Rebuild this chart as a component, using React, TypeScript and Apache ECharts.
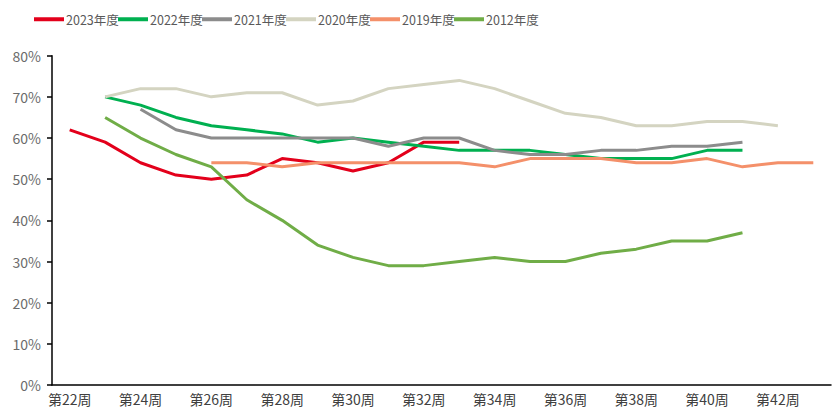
import React, { useEffect, useRef } from "react";
import * as echarts from "echarts";

const weeks = Array.from({ length: 22 }, (_, i) => `第${22 + i}周`);
const seriesNames = ["2023年度", "2022年度", "2021年度", "2020年度", "2019年度", "2012年度"];
const colors = ["#E3001B", "#00B050", "#8C8C8C", "#D4D4C1", "#F4906A", "#70AD47"];

const _ = null;
// weeks 22..43
const v2023 = [62, 59, 54, 51, 50, 51, 55, 54, 52, 54, 59, 59, _, _, _, _, _, _, _, _, _, _];
const v2022 = [_, 70, 68, 65, 63, 62, 61, 59, 60, 59, 58, 57, 57, 57, 56, 55, 55, 55, 57, 57, _, _];
const v2021 = [_, _, 67, 62, 60, 60, 60, 60, 60, 58, 60, 60, 57, 56, 56, 57, 57, 58, 58, 59, _, _];
const v2020 = [_, 70, 72, 72, 70, 71, 71, 68, 69, 72, 73, 74, 72, 69, 66, 65, 63, 63, 64, 64, 63, _];
const v2019 = [_, _, _, _, 54, 54, 53, 54, 54, 54, 54, 54, 53, 55, 55, 55, 54, 54, 55, 53, 54, 54];
const v2012 = [_, 65, 60, 56, 53, 45, 40, 34, 31, 29, 29, 30, 31, 30, 30, 32, 33, 35, 35, 37, _, _];

const allValues = [v2023, v2022, v2021, v2020, v2019, v2012];
const legendLefts = [29, 113, 197, 281, 365, 449];

export default function App() {
  const ref = useRef<HTMLDivElement>(null);
  useEffect(() => {
    if (!ref.current) return;
    const chart = echarts.init(ref.current, null, { renderer: "svg" });
    const font = "'Noto Sans CJK SC', 'Noto Sans', sans-serif";
    chart.setOption({
      animation: false,
      textStyle: { fontFamily: font },
      legend: seriesNames.map((n, i) => ({
        data: [{ name: n, icon: "rect" }],
        left: legendLefts[i],
        top: 8,
        itemWidth: 30,
        itemHeight: 4,
        itemGap: 2,
        textStyle: { fontSize: 12.5, color: "#595959", fontFamily: font, padding: [0, 0, 0, -3] },
      })),
      grid: { left: 52, right: 2, top: 55.7, bottom: 27, containLabel: false },
      xAxis: {
        type: "category",
        data: weeks,
        boundaryGap: true,
        axisLine: { lineStyle: { color: "#000", width: 1.5 } },
        axisTick: { interval: 1, alignWithLabel: false, length: 5, lineStyle: { color: "#000", width: 1.5 } },
        axisLabel: { interval: 1, fontSize: 14, color: "#404040", margin: 7, fontFamily: font },
        splitLine: { show: false },
      },
      yAxis: {
        type: "value",
        min: 0,
        max: 80,
        interval: 10,
        axisLine: { show: true, lineStyle: { color: "#000", width: 1.5 } },
        axisTick: { show: true, length: 5, lineStyle: { color: "#000", width: 1.5 } },
        axisLabel: { formatter: "{value}%", fontSize: 14, color: "#6B6B6B", margin: 11, fontFamily: font },
        splitLine: { show: false },
      },
      series: seriesNames.map((n, i) => ({
        name: n,
        type: "line",
        data: allValues[i],
        symbol: "none",
        connectNulls: false,
        lineStyle: { color: colors[i], width: 3 },
        itemStyle: { color: colors[i] },
      })),
    });
    return () => chart.dispose();
  }, []);
  return <div ref={ref} style={{ width: 833, height: 412, position: "absolute", left: 0, top: 0 }} />;
}
